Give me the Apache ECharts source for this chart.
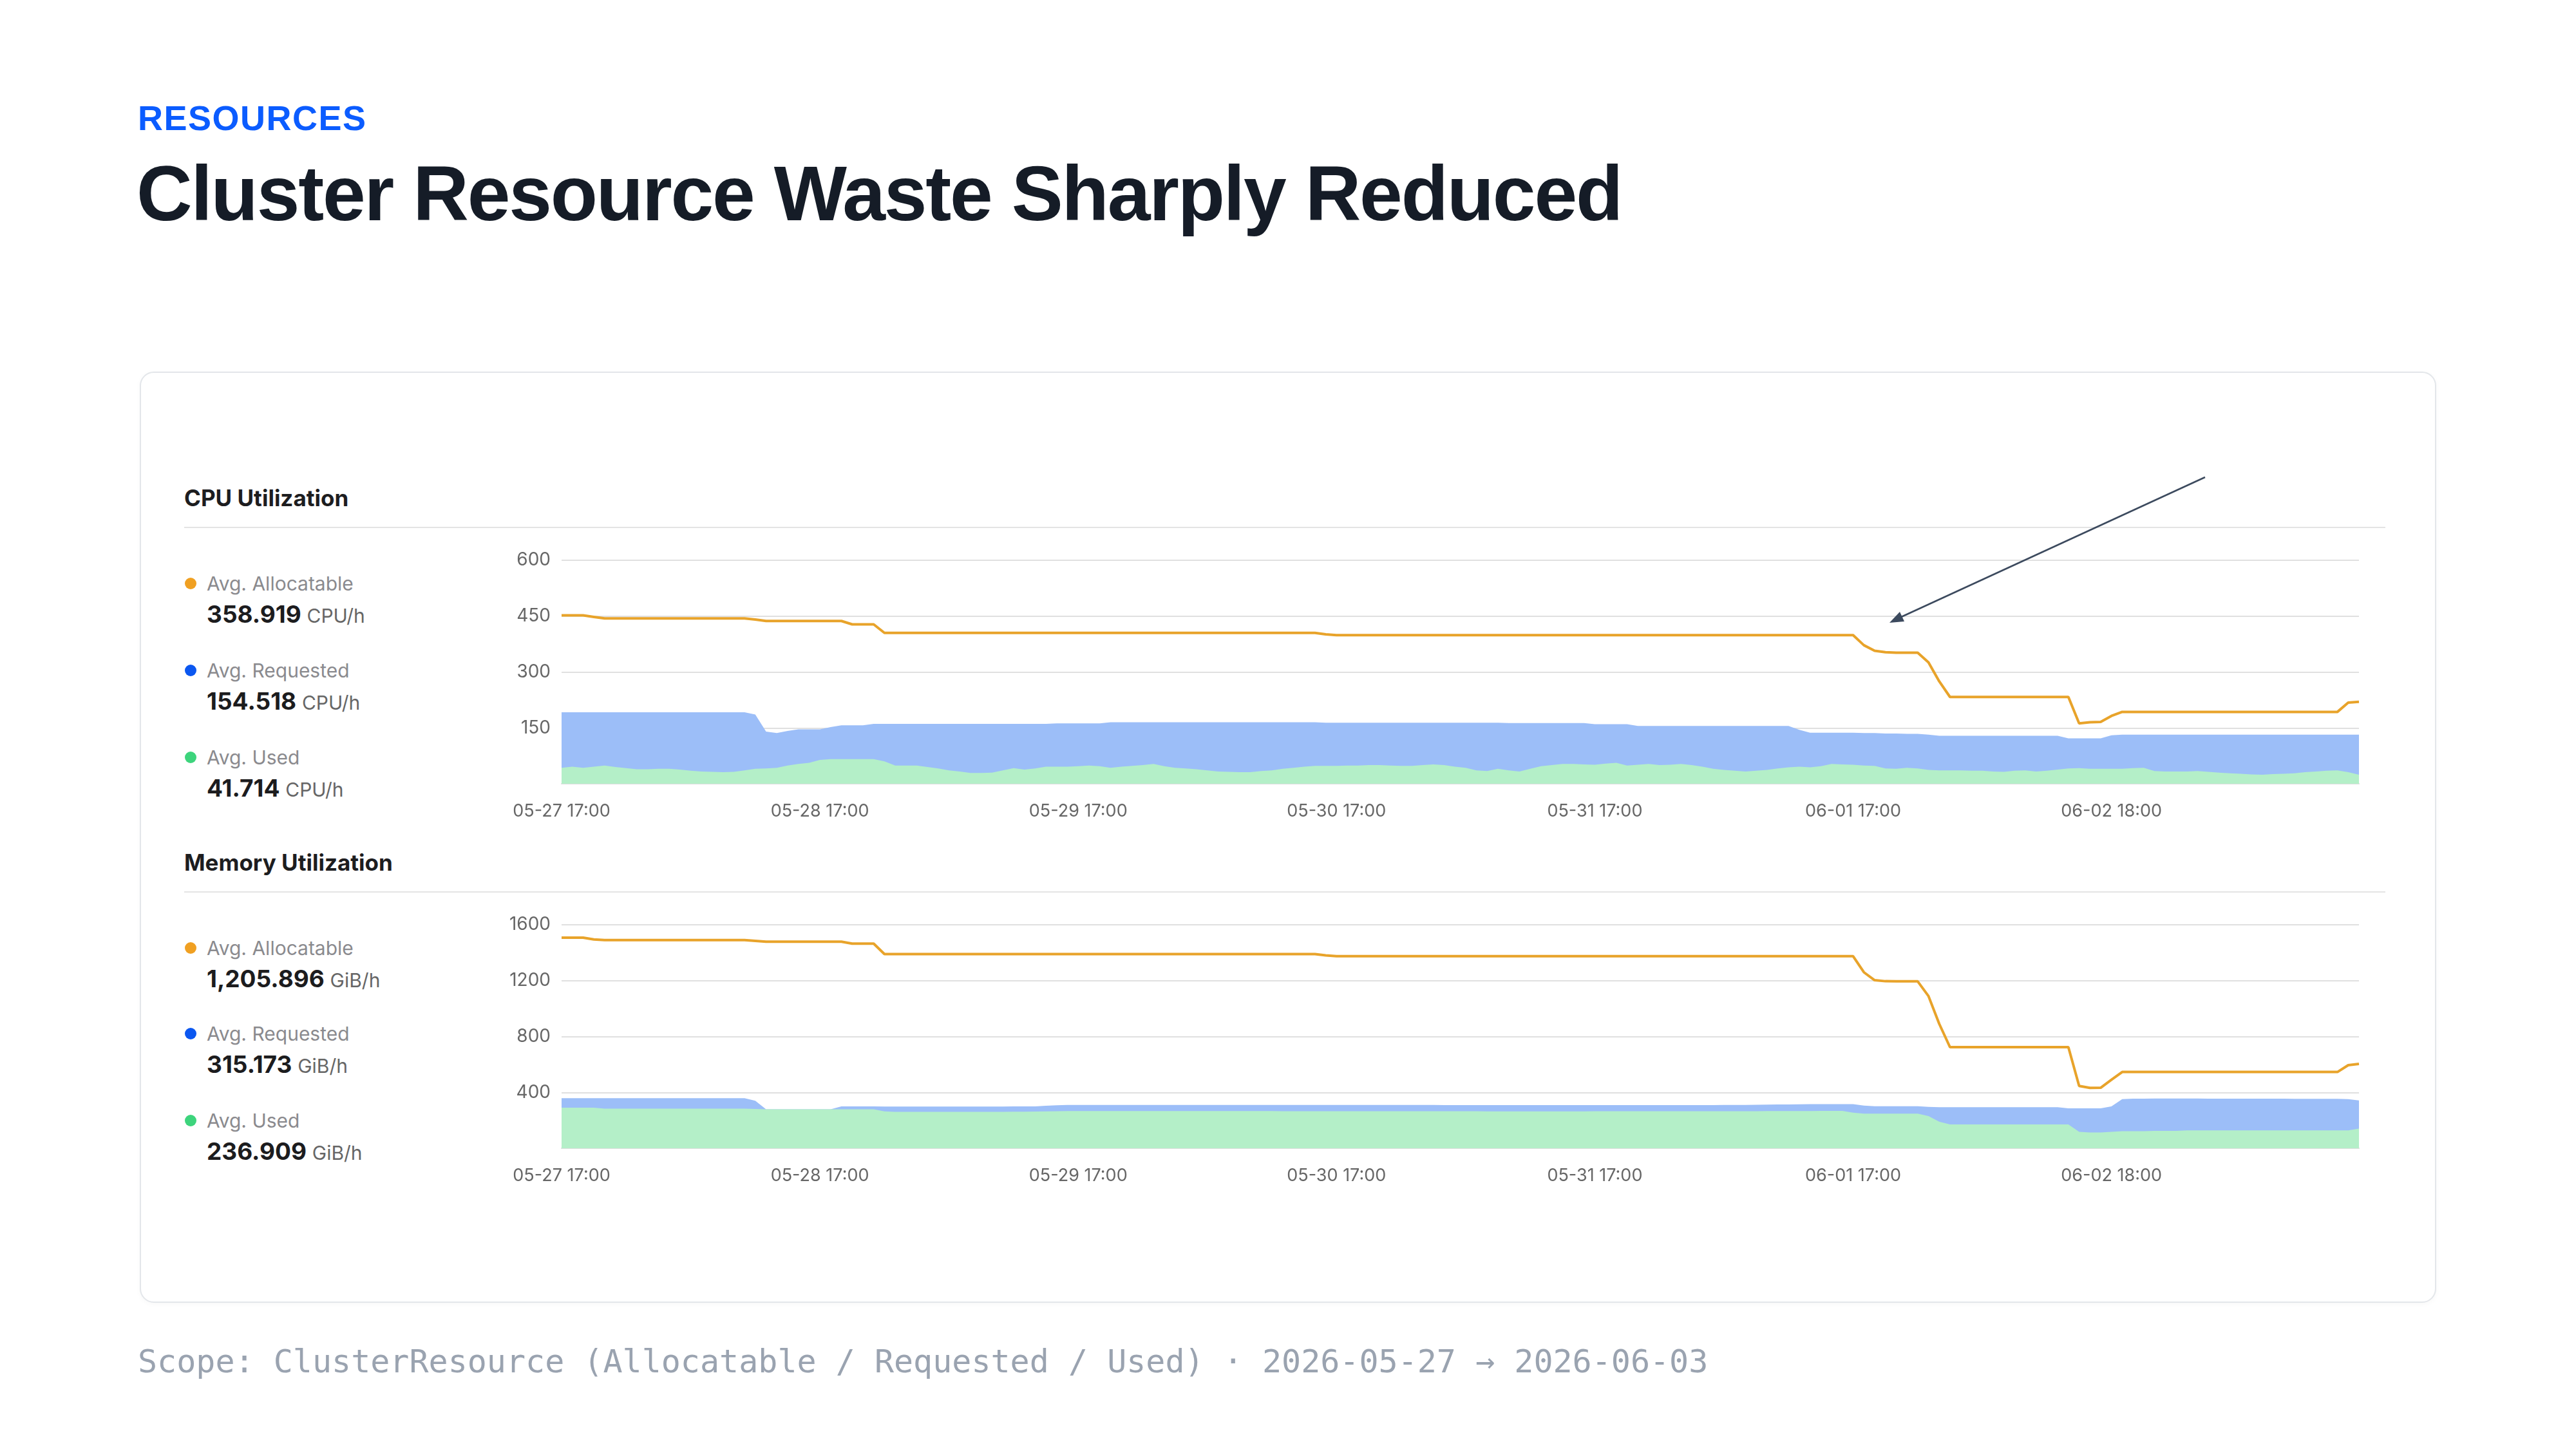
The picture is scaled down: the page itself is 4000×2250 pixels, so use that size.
<!DOCTYPE html>
<html>
<head>
<meta charset="utf-8">
<title>Cluster Resource Waste Sharply Reduced</title>
<script src="https://cdn.jsdelivr.net/npm/echarts@6/dist/echarts.min.js"></script>
<style>
  html, body { margin: 0; padding: 0; background: #fff; }
  body { position: relative; width: 4000px; height: 2250px; overflow: hidden; font-family: Inter, "Noto Sans", sans-serif; }
  .kicker { position: absolute; left: 214px; top: 156px; font: 700 54px/54px "Liberation Sans", Arial, sans-serif; color: #0b5cff; letter-spacing: 1.5px; }
  .title { position: absolute; left: 212px; top: 240px; font: 700 120px/120px "Liberation Sans", Arial, sans-serif; color: #151c27; letter-spacing: -2.2px; white-space: nowrap; }
  .card { position: absolute; left: 217px; top: 577px; width: 3562px; height: 1442px; border: 2px solid #e3e6ea; border-radius: 22px; background: #fff; box-shadow: 0 2px 8px rgba(0,0,0,0.03); }
  .section { position: absolute; left: 286px; font-weight: 700; font-size: 35px; line-height: 40px; color: #1d1d1f; }
  .rule { position: absolute; left: 286px; width: 3418px; height: 2px; background: #e4e4e4; }
  .dot { position: absolute; left: 287px; width: 18px; height: 18px; border-radius: 50%; }
  .lbl { position: absolute; left: 321px; font-size: 30px; line-height: 36px; color: #8a8a8e; white-space: nowrap; }
  .val { position: absolute; left: 321px; font-size: 37px; line-height: 44px; font-weight: 700; color: #1c1c1e; white-space: nowrap; }
  .val span { font-size: 30px; font-weight: 400; color: #666; }
  .footer { position: absolute; left: 214px; top: 2084px; font: 400 50px/60px "DejaVu Sans Mono", monospace; color: #9aa3b0; white-space: nowrap; }
  #chart { position: absolute; left: 0; top: 0; width: 4000px; height: 2250px; }
</style>
</head>
<body>
<div class="kicker">RESOURCES</div>
<div class="title">Cluster Resource Waste Sharply Reduced</div>
<div class="card"></div>
<div class="section" style="top:753px">CPU Utilization</div>
<div class="rule" style="top:818px"></div>
<div class="section" style="top:1319px">Memory Utilization</div>
<div class="rule" style="top:1384px"></div>
<div id="legends"></div>
<div id="chart"></div>
<div class="footer">Scope: ClusterResource (Allocatable / Requested / Used) · 2026-05-27 → 2026-06-03</div>

<script>
// hourly samples, 05-27 17:00 onwards (one row = one day)
const cpuAllocatable = [
  452,452,452,448,444,444,444,444,444,444,444,444,444,444,444,444,444,444,441,437,437,437,437,437,
  437,437,437,428,428,428,405,405,405,405,405,405,405,405,405,405,405,405,405,405,405,405,405,405,
  405,405,405,405,405,405,405,405,405,405,405,405,405,405,405,405,405,405,405,405,405,405,405,401,
  399,399,399,399,399,399,399,399,399,399,399,399,399,399,399,399,399,399,399,399,399,399,399,399,
  399,399,399,399,399,399,399,399,399,399,399,399,399,399,399,399,399,399,399,399,399,399,399,399,
  399,372,357,353,352,352,352,326,275,233,233,233,233,233,233,233,233,233,233,233,233,162,165,166,
  182,193,193,193,193,193,193,193,193,193,193,193,193,193,193,193,193,193,193,193,193,193,218,220
]
const cpuRequested = [
  192,192,192,192,192,192,192,192,192,192,192,192,192,192,192,192,192,192,186,140,136,142,146,146,
  146,152,157,157,157,161,161,161,161,161,161,161,161,161,161,161,161,161,161,161,161,161,162,162,
  162,162,162,165,165,165,165,165,165,165,165,165,165,165,165,165,165,165,165,165,165,165,165,164,
  164,164,164,164,164,164,164,164,164,164,164,164,164,164,164,164,163,163,163,163,163,163,163,163,
  160,160,160,160,155,155,155,155,155,155,155,155,155,155,155,155,155,155,155,145,137,137,137,137,
  137,136,136,135,135,134,134,132,129,129,129,129,129,129,129,129,129,129,129,129,122,122,122,122,
  130,132,132,132,132,132,132,132,132,132,132,132,132,132,132,132,132,132,132,132,132,132,132,132
]
const cpuUsed = [
  43,46,43,46,49,45,42,39,39,40,40,38,35,33,32,31,32,36,40,41,43,49,53,56,
  64,66,66,66,66,66,60,49,49,49,45,41,36,33,29,29,30,36,42,38,41,46,46,46,
  47,49,47,43,46,48,50,53,47,43,41,39,36,33,32,31,31,34,36,40,43,46,48,48,
  48,49,49,50,50,49,48,48,50,52,50,46,43,36,34,40,36,33,40,47,50,53,53,52,
  51,54,56,49,51,53,50,51,53,50,46,40,37,35,33,35,37,41,44,46,44,47,53,52,
  51,49,48,41,40,43,41,37,36,36,36,35,35,33,32,35,36,33,35,38,41,42,40,40,
  40,40,42,43,34,33,33,33,34,32,30,28,27,25,24,26,27,28,31,33,35,36,31,24
]
const memAllocatable = [
  1508,1508,1508,1495,1490,1490,1490,1490,1490,1490,1490,1490,1490,1490,1490,1490,1490,1490,1485,1479,1479,1479,1479,1479,
  1479,1479,1479,1465,1465,1465,1390,1390,1390,1390,1390,1390,1390,1390,1390,1390,1390,1390,1390,1390,1390,1390,1390,1390,
  1390,1390,1390,1390,1390,1390,1390,1390,1390,1390,1390,1390,1390,1390,1390,1390,1390,1390,1390,1390,1390,1390,1390,1381,
  1375,1375,1375,1375,1375,1375,1375,1375,1375,1375,1375,1375,1375,1375,1375,1375,1375,1375,1375,1375,1375,1375,1375,1375,
  1375,1375,1375,1375,1375,1375,1375,1375,1375,1375,1375,1375,1375,1375,1375,1375,1375,1375,1375,1375,1375,1375,1375,1375,
  1375,1260,1203,1196,1195,1195,1195,1090,891,724,724,724,724,724,724,724,724,724,724,724,724,446,432,433,
  490,546,546,546,546,546,546,546,546,546,546,546,546,546,546,546,546,546,546,546,546,546,595,604
]
const memRequested = [
  359,359,359,359,359,359,359,359,359,359,359,359,359,359,359,359,359,359,340,279,279,279,279,279,
  279,279,300,300,300,300,299,299,299,299,299,299,299,299,299,299,299,299,300,300,300,304,308,310,
  310,310,310,310,310,310,310,310,310,310,310,310,310,310,310,310,310,310,310,310,310,310,310,310,
  310,310,310,310,310,310,310,310,310,310,309,309,309,309,309,309,309,309,309,309,309,309,309,309,
  309,309,309,309,309,309,309,309,309,309,309,309,310,310,310,311,312,313,314,315,316,316,316,316,
  316,306,301,301,301,301,301,296,294,294,294,294,294,294,294,294,294,294,294,294,286,286,286,286,
  300,352,355,355,356,356,356,356,356,355,355,355,355,355,355,355,355,354,354,354,354,354,352,342
]
const memUsed = [
  291,291,291,291,284,284,284,284,284,284,284,284,284,284,284,284,284,284,281,279,279,279,279,279,
  279,279,279,279,279,279,264,261,261,261,261,261,261,261,261,261,261,261,262,262,263,264,265,266,
  266,266,266,266,266,266,266,266,266,266,266,266,266,266,266,266,266,266,266,265,265,265,265,265,
  265,265,265,265,265,265,265,265,265,265,265,265,265,265,264,264,264,264,264,264,264,264,264,264,
  265,265,265,265,265,265,265,265,265,265,265,265,265,265,265,265,266,266,266,266,266,267,267,267,
  255,248,248,248,248,248,248,230,190,171,171,171,171,171,171,171,171,171,171,171,171,118,113,113,
  118,122,122,122,125,125,125,128,128,128,128,128,128,128,128,128,128,128,128,128,128,128,128,141
]

const legendNames = ['Avg. Allocatable', 'Avg. Requested', 'Avg. Used']
const legendColors = ['#f0a022', '#0b57f0', '#3dd47c']
const cpuAverages = ['358.919', '154.518', '41.714']
const memAverages = ['1,205.896', '315.173', '236.909']

const cpuTicks = { max: 600, interval: 150 }
const memTicks = { max: 1600, interval: 400 }

// category labels; the collector skipped an hour on 06-02, so later samples shift by one
const timeLabels = []
for (let i = 0; i < cpuUsed.length; i++) {
  const d = new Date(Date.UTC(2026, 4, 27, 17) + (i + (i >= 132 ? 1 : 0)) * 3600e3)
  const p = n => String(n).padStart(2, '0')
  timeLabels.push(`${p(d.getUTCMonth() + 1)}-${p(d.getUTCDate())} ${p(d.getUTCHours())}:00`)
}

// left-hand summary blocks
const legendBox = document.getElementById('legends')
const addBlock = (centers, values, unit) => {
  centers.forEach((c, i) => {
    legendBox.insertAdjacentHTML('beforeend',
      `<div class="dot" style="top:${c - 9}px;background:${legendColors[i]}"></div>` +
      `<div class="lbl" style="top:${c - 18}px">${legendNames[i]}</div>` +
      `<div class="val" style="top:${c + 48 - 22}px">${values[i]} <span>${unit}</span></div>`)
  })
}
addBlock([906, 1041, 1176], cpuAverages, 'CPU/h')
addBlock([1472, 1605, 1740], memAverages, 'GiB/h')

const chart = echarts.init(document.getElementById('chart'))

const xAxisFor = gridIndex => ({
  type: 'category',
  gridIndex,
  data: timeLabels,
  boundaryGap: false,
  axisTick: { show: false },
  axisLine: { lineStyle: { color: '#dddddd', width: 2 } },
  axisLabel: { interval: 23, color: '#666', fontSize: 27, margin: 29, fontFamily: 'Inter' }
})
const yAxisFor = (gridIndex, ticks) => ({
  type: 'value',
  gridIndex,
  min: 0,
  max: ticks.max,
  interval: ticks.interval,
  axisLine: { show: false },
  axisTick: { show: false },
  axisLabel: { showMinLabel: false, color: '#666', fontSize: 28, margin: 17, fontFamily: 'Inter', formatter: v => String(v) },
  splitLine: { lineStyle: { color: '#e0e0e0', width: 2 } }
})
const areaSeries = (name, data, idx, color, z) => ({
  name, type: 'line', data, xAxisIndex: idx, yAxisIndex: idx, z,
  symbol: 'none', lineStyle: { width: 0 }, areaStyle: { color, opacity: 1 }
})
const lineSeries = (name, data, idx) => ({
  name, type: 'line', data, xAxisIndex: idx, yAxisIndex: idx, z: 5,
  symbol: 'none', lineStyle: { width: 4, color: '#e8a32a' }
})

chart.setOption({
  animation: false,
  grid: [
    { left: 872, top: 870, width: 2791, height: 347 },
    { left: 872, top: 1436, width: 2791, height: 347 }
  ],
  xAxis: [xAxisFor(0), xAxisFor(1)],
  yAxis: [yAxisFor(0, cpuTicks), yAxisFor(1, memTicks)],
  series: [
    areaSeries('Requested', cpuRequested, 0, '#9cbef8', 2),
    areaSeries('Used', cpuUsed, 0, '#b4efc8', 3),
    lineSeries('Allocatable', cpuAllocatable, 0),
    areaSeries('Requested', memRequested, 1, '#9cbef8', 2),
    areaSeries('Used', memUsed, 1, '#b4efc8', 3),
    lineSeries('Allocatable', memAllocatable, 1)
  ],
  // annotation arrow pointing at the start of the drop
  graphic: [
    { type: 'line', shape: { x1: 3424, y1: 741, x2: 2950, y2: 959 }, style: { stroke: '#3c4a5e', lineWidth: 2.5 }, z: 10 },
    { type: 'polygon', shape: { points: [[2934, 967], [2957, 965], [2950, 950]] }, style: { fill: '#3c4a5e' }, z: 10 }
  ]
})
</script>
</body>
</html>
